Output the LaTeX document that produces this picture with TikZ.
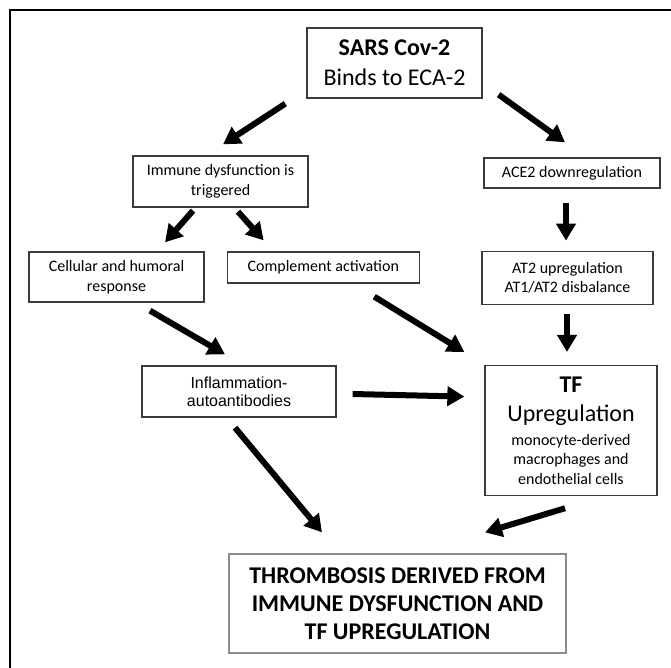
\documentclass[tikz,border=0pt]{standalone}
\usepackage{fontspec}
\setmainfont{Carlito}
\newfontfamily\arialfont{Liberation Sans}
\usepackage{tikz}
\usetikzlibrary{arrows.meta,positioning,calc}
\definecolor{BoxGray}{HTML}{3A3A3A}
\definecolor{PaleGray}{HTML}{8C8C8C}

\begin{document}
\begin{tikzpicture}[
x=1pt,y=-1pt,
box/.style={draw=BoxGray,line width=1.3pt,align=center,inner sep=0pt,font=\fontsize{16}{19.5}\selectfont},
arr/.style={-{Triangle[length=17pt,width=19pt]},line width=6pt}
]
\useasboundingbox[fill=white] (0,0) rectangle (671,668);
\clip (0,0) rectangle (671,668);
\draw[line width=2.6pt] (10,700) -- (10,10) -- (700,10);

\node[box,minimum width=175pt,minimum height=70pt,font=\fontsize{24}{30}\selectfont] (sars) at (394.5,63) {\textbf{SARS Cov-2}\\Binds to ECA-2};
\node[box,minimum width=175pt,minimum height=51pt] (immune) at (220.5,181.5) {Immune dysfunction is\\triggered};
\node[box,minimum width=176pt,minimum height=30pt] (ace) at (572,173) {ACE2 downregulation};
\node[box,minimum width=175pt,minimum height=50pt] (cell) at (116.5,277) {Cellular and humoral\\response};
\node[box,minimum width=192pt,minimum height=31pt,anchor=north west,right=22pt of cell.north east,anchor=north west] (compl) {Complement activation};
\node[box,minimum width=171pt,minimum height=53pt,below=62pt of ace,xshift=-4.5pt] (at2) {AT2 upregulation\\AT1/AT2 disbalance};
\node[box,minimum width=172pt,minimum height=130pt,below=60pt of at2,xshift=3.5pt] (tf) {{\fontsize{24}{30}\selectfont\bfseries TF}\\[10pt]{\fontsize{24}{30}\selectfont Upregulation}\\[4pt]monocyte-derived\\macrophages and\\endothelial cells};
\node[box,minimum width=194pt,minimum height=51pt,font=\arialfont\fontsize{16}{18}\selectfont] (infl) at (239,391.5) {Inflammation-\\autoantibodies};
\node[box,draw=PaleGray,minimum width=337pt,minimum height=99pt,font=\fontsize{24}{28}\selectfont\bfseries] (thr) at (397.5,603.5) {THROMBOSIS DERIVED FROM\\IMMUNE DYSFUNCTION AND\\TF UPREGULATION};

\draw[arr] ($(sars.south west)+(-21,5)$) -- ($(immune.north)+(2.5,-11)$);
\draw[arr] ($(sars.south east)+(16,-4)$) -- ($(ace.north)+(-7,-15)$);
\draw[arr] ($(immune.south)+(-27.5,3)$) -- ($(cell.north)+(48.5,-9)$);
\draw[arr] ($(immune.south)+(17.5,4)$) -- ($(compl.north west)+(37,-11)$);
\draw[arr] ($(ace.south)+(-6,14)$) -- ($(at2.north)+(-1.5,-10)$);
\draw[arr] ($(at2.south)+(-0.5,9)$) -- ($(tf.north)+(-4,-13)$);
\draw[arr] ($(cell.south)+(33.5,8)$) -- ($(infl.north)+(-14,-11)$);
\draw[arr] ($(compl.south)+(51,13)$) -- ($(tf.north west)+(-20,-13)$);
\draw[arr] ($(infl.east)+(16,2.5)$) -- ($(tf.west)+(-20,-34)$);
\draw[arr] ($(infl.south)+(-4,10)$) -- ($(thr.north)+(-75.5,-21)$);
\draw[arr] ($(tf.south)+(-6,12)$) -- ($(thr.north)+(87.5,-21)$);
\end{tikzpicture}
\end{document}
